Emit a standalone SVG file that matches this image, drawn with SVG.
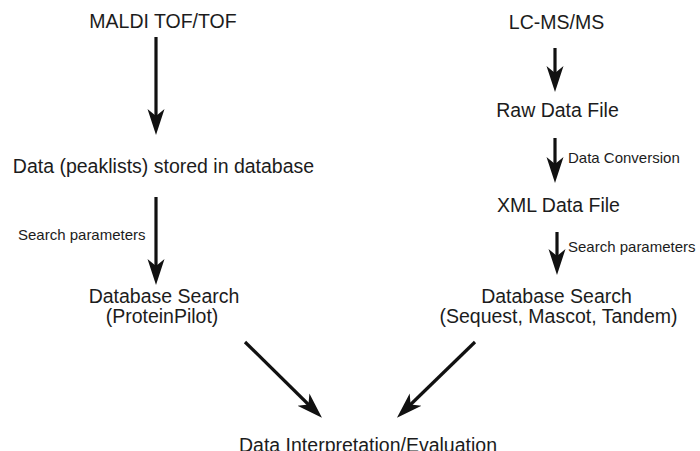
<svg xmlns="http://www.w3.org/2000/svg" width="700" height="451" viewBox="0 0 700 451">
  <style>
    .lbl { font-family: "Liberation Sans", Arial, sans-serif; font-size: 19.5px; fill: #1c1c1c; text-anchor: middle; }
    .sm { font-family: "Liberation Sans", Arial, sans-serif; font-size: 15px; fill: #1c1c1c; }
    .conn line { stroke: #111; stroke-width: 3.2; fill: none; marker-end: url(#ah); }
  </style>
  <defs>
    <marker id="ah" markerUnits="userSpaceOnUse" markerWidth="30" markerHeight="20" viewBox="0 -10 30 20" refX="12" refY="0" orient="auto">
      <path d="M26,0 L0,-8.5 L7,0 L0,8.5 Z" fill="#111"/>
    </marker>
  </defs>
  <rect x="0" y="0" width="700" height="451" fill="#ffffff"/>

  <g id="maldi"><text class="lbl" x="163" y="28">MALDI TOF/TOF</text></g>
  <g id="peaklists"><text class="lbl" x="163.5" y="173">Data (peaklists) stored in database</text></g>
  <g id="search-left">
    <text class="lbl" x="164" y="303">Database Search</text>
    <text class="lbl" x="162" y="323">(ProteinPilot)</text>
  </g>
  <g id="lcmsms"><text class="lbl" x="556.5" y="29">LC-MS/MS</text></g>
  <g id="raw"><text class="lbl" x="557.5" y="117">Raw Data File</text></g>
  <g id="xml"><text class="lbl" x="558.5" y="212">XML Data File</text></g>
  <g id="search-right">
    <text class="lbl" x="556.5" y="303">Database Search</text>
    <text class="lbl" x="558.5" y="323">(Sequest, Mascot, Tandem)</text>
  </g>
  <g id="interp"><text class="lbl" x="368" y="452">Data Interpretation/Evaluation</text></g>

  <g id="connectors" class="conn">
    <line x1="156" y1="37" x2="156" y2="121"/>
    <line x1="156" y1="197" x2="156" y2="271"/>
    <line x1="555" y1="48" x2="555" y2="78"/>
    <line x1="555" y1="138" x2="555" y2="169"/>
    <line x1="557" y1="232" x2="557" y2="261"/>
    <line x1="245" y1="342" x2="312" y2="408"/>
    <line x1="475" y1="342" x2="407" y2="408"/>
  </g>
  <g id="connector-labels">
    <text class="sm" x="18" y="240">Search parameters</text>
    <text class="sm" x="568" y="163">Data Conversion</text>
    <text class="sm" x="568" y="252">Search parameters</text>
  </g>
</svg>
